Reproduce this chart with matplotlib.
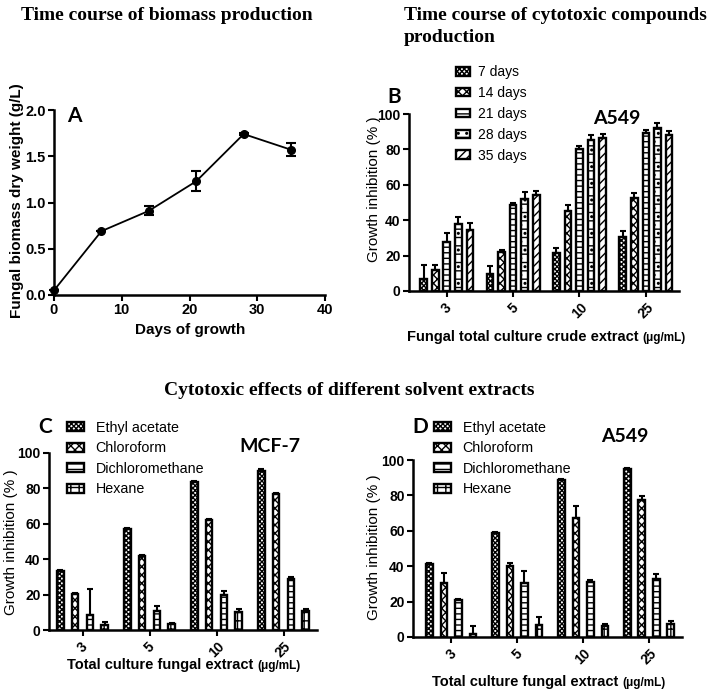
import numpy as np
import matplotlib
matplotlib.use("Agg")
import matplotlib.pyplot as plt

plt.rcParams['font.family'] = ['Liberation Sans', 'DejaVu Sans']
plt.rcParams['hatch.linewidth'] = 1.0

# Panel A: biomass time course
days = [0, 7, 14, 21, 28, 35]
biomass = [0.05, 0.69, 0.91, 1.23, 1.74, 1.57]
biomass_err = [0.0, 0.0, 0.05, 0.11, 0.01, 0.07]

# Panel B: A549 inhibition by culture age
conc_labels = ['3', '5', '10', '25']
b_names = ['7 days', '14 days', '21 days', '28 days', '35 days']
inh_7d = [7.0, 9.8, 21.5, 30.6]
err_7d = [7.5, 4.2, 2.8, 3.4]
inh_14d = [12.0, 22.0, 45.3, 52.6]
err_14d = [2.5, 1.0, 3.2, 2.9]
inh_21d = [27.7, 48.5, 80.2, 89.0]
err_21d = [4.8, 1.3, 1.8, 2.0]
inh_28d = [37.7, 51.7, 85.3, 91.9]
err_28d = [4.2, 4.0, 2.7, 2.8]
inh_35d = [34.7, 54.5, 86.6, 88.1]
err_35d = [3.8, 1.9, 1.9, 2.5]

# Panels C/D: solvent extracts
solvents = ['Ethyl acetate', 'Chloroform', 'Dichloromethane', 'Hexane']
mcf7_ea = [33.4, 57.0, 83.4, 89.6]
mcf7_ea_err = [0.5, 0.6, 0.6, 1.6]
mcf7_cf = [20.2, 41.7, 62.3, 76.8]
mcf7_cf_err = [0.6, 0.6, 0.6, 0.6]
mcf7_dcm = [8.5, 10.7, 19.8, 28.7]
mcf7_dcm_err = [14.7, 2.6, 2.5, 1.0]
mcf7_hex = [2.8, 3.4, 10.0, 11.0]
mcf7_hex_err = [1.5, 0.6, 2.0, 0.6]

a549_ea = [41.0, 59.0, 88.7, 95.0]
a549_ea_err = [0.6, 0.6, 0.8, 0.5]
a549_cf = [30.6, 40.2, 67.0, 77.4]
a549_cf_err = [5.6, 1.6, 7.0, 2.0]
a549_dcm = [21.1, 30.6, 31.1, 32.6]
a549_dcm_err = [0.6, 6.8, 1.0, 3.0]
a549_hex = [1.9, 6.6, 6.0, 7.5]
a549_hex_err = [4.3, 4.7, 1.5, 1.5]

hatches5 = ['xxxxxxx', 'XXXX', '---', '--..', '////']
hatches4 = ['xxxxxxx', 'XXXX', '---', '++']

serif = ['Liberation Serif', 'DejaVu Serif']
letter_font = ['Lato', 'DejaVu Sans']

fig = plt.figure(figsize=(7.08, 6.93), dpi=100)
W, H = 708, 693


def fx(px):
    return px / W


def fy(py):
    return 1 - py / H


def style_axes(ax, size):
    for s in ['top', 'right']:
        ax.spines[s].set_visible(False)
    for s in ['left', 'bottom']:
        ax.spines[s].set_linewidth(1.8)
    ax.tick_params(width=1.5, length=4, labelsize=size, pad=2)
    for lbl in ax.get_xticklabels() + ax.get_yticklabels():
        lbl.set_fontweight('bold')


def place_ylabel(ax, text, px, py, **kw):
    ax.set_ylabel(text, va='center', **kw)
    ax.yaxis.set_label_coords(fx(px), fy(py), transform=fig.transFigure)


def unit_xlabel(px, py, text):
    t = fig.text(fx(px), fy(py), text, fontsize=10.5, fontweight='bold',
                 ha='left', va='center')
    fig.axes[0].annotate('(\u03bcg/mL)', xy=(1, 0.22), xycoords=t, fontsize=8.5,
                         fontweight='bold', ha='left', va='baseline',
                         annotation_clip=False)


def grouped_bars(ax, series, errors, hatches, names, spacing):
    x = np.arange(len(conc_labels))
    n = len(series)
    handles = []
    for i, (vals, err) in enumerate(zip(series, errors)):
        pos = x + (i - (n - 1) / 2) * spacing
        bars = ax.bar(pos, vals, width=0.1, facecolor='white', edgecolor='black',
                      linewidth=1.7, hatch=hatches[i], label=names[i], zorder=2)
        ax.errorbar(pos, vals, yerr=[np.zeros(len(vals)), err], fmt='none',
                    ecolor='black', elinewidth=1.5, capsize=2.5, capthick=1.5, zorder=3)
        handles.append(bars)
    ax.set_ylim(0, 100)
    ax.set_yticks([0, 20, 40, 60, 80, 100])
    ax.set_xticks(x)
    ax.set_xticklabels(conc_labels, rotation=45, ha='center')
    style_axes(ax, 10)
    ax.tick_params(axis='x', pad=3)
    return handles


# ---- Panel A ----
axA = fig.add_axes([fx(54), fy(295), fx(325) - fx(54), fy(110) - fy(295)])
axA.errorbar(days, biomass, yerr=biomass_err, fmt='-o', color='black', lw=1.3,
             ms=5.5, capsize=3.5, capthick=1.5, elinewidth=1.5, clip_on=False)
axA.set_xlim(0, 40)
axA.set_ylim(0, 2.0)
axA.set_xticks([0, 10, 20, 30, 40])
axA.set_yticks([0.0, 0.5, 1.0, 1.5, 2.0])
axA.set_yticklabels(['0.0', '0.5', '1.0', '1.5', '2.0'])
style_axes(axA, 10.5)
axA.set_xlabel('Days of growth', fontsize=11, fontweight='bold', va='center')
axA.xaxis.set_label_coords(fx(190), fy(330), transform=fig.transFigure)
place_ylabel(axA, 'Fungal biomass dry weight (g/L)', 17, 201, fontsize=11, fontweight='bold')
fig.text(fx(74), fy(116), 'A', fontsize=15, fontweight='bold', family=letter_font,
         ha='center', va='center')
fig.text(fx(21), fy(15), 'Time course of biomass production', family=serif,
         fontsize=14, fontweight='bold', ha='left', va='center')

# ---- Panel B ----
axB = fig.add_axes([fx(409), fy(291), fx(679) - fx(409), fy(114) - fy(291)])
axB.set_xlim(-0.57, 3.5)
hB = grouped_bars(axB, [inh_7d, inh_14d, inh_21d, inh_28d, inh_35d],
                  [err_7d, err_14d, err_21d, err_28d, err_35d], hatches5, b_names, 0.175)
place_ylabel(axB, 'Growth inhibition (% )', 374, 189, fontsize=11)
axB.legend(handles=hB, loc='upper left', bbox_to_anchor=(fx(456), fy(65)),
           bbox_transform=fig.transFigure, frameon=False, fontsize=10,
           borderpad=0, borderaxespad=0, handlelength=1.0, handleheight=0.6,
           handletextpad=0.55, labelspacing=0.5)
fig.text(fx(394), fy(97), 'B', fontsize=15, fontweight='bold', family=letter_font,
         ha='center', va='center')
fig.text(fx(617), fy(118), 'A549', fontsize=14, fontweight='bold', family=letter_font,
         ha='center', va='center')
fig.text(fx(404), fy(15), 'Time course of cytotoxic compounds', family=serif,
         fontsize=14, fontweight='bold', ha='left', va='center')
fig.text(fx(404), fy(37), 'production', family=serif,
         fontsize=14, fontweight='bold', ha='left', va='center')
unit_xlabel(407, 337, 'Fungal total culture crude extract ')

# ---- Panel C ----
axC = fig.add_axes([fx(49), fy(630), fx(317) - fx(49), fy(453) - fy(630)])
axC.set_xlim(-0.5, 3.5)
hC = grouped_bars(axC, [mcf7_ea, mcf7_cf, mcf7_dcm, mcf7_hex],
                  [mcf7_ea_err, mcf7_cf_err, mcf7_dcm_err, mcf7_hex_err],
                  hatches4, solvents, 0.22)
place_ylabel(axC, 'Growth inhibition (% )', 11, 542, fontsize=11)
axC.legend(handles=hC, loc='upper left', bbox_to_anchor=(fx(67), fy(421)),
           bbox_transform=fig.transFigure, frameon=False, fontsize=10.3,
           borderpad=0, borderaxespad=0, handlelength=1.2, handleheight=0.6,
           handletextpad=0.8, labelspacing=0.45)
fig.text(fx(45), fy(427), 'C', fontsize=15, fontweight='bold', family=letter_font,
         ha='center', va='center')
fig.text(fx(270), fy(447), 'MCF-7', fontsize=14, fontweight='bold', family=letter_font,
         ha='center', va='center')
unit_xlabel(67, 665, 'Total culture fungal extract ')

# ---- Panel D ----
axD = fig.add_axes([fx(413), fy(637), fx(682) - fx(413), fy(460) - fy(637)])
axD.set_xlim(-0.58, 3.5)
hD = grouped_bars(axD, [a549_ea, a549_cf, a549_dcm, a549_hex],
                  [a549_ea_err, a549_cf_err, a549_dcm_err, a549_hex_err],
                  hatches4, solvents, 0.22)
place_ylabel(axD, 'Growth inhibition (% )', 374, 547, fontsize=11)
axD.legend(handles=hD, loc='upper left', bbox_to_anchor=(fx(434), fy(421)),
           bbox_transform=fig.transFigure, frameon=False, fontsize=10.3,
           borderpad=0, borderaxespad=0, handlelength=1.2, handleheight=0.6,
           handletextpad=0.8, labelspacing=0.45)
fig.text(fx(420), fy(427), 'D', fontsize=15, fontweight='bold', family=letter_font,
         ha='center', va='center')
fig.text(fx(625), fy(436), 'A549', fontsize=14, fontweight='bold', family=letter_font,
         ha='center', va='center')
unit_xlabel(432, 682, 'Total culture fungal extract ')

fig.text(fx(349), fy(391), 'Cytotoxic effects of different solvent extracts', family=serif,
         fontsize=14, fontweight='bold', ha='center', va='center')

fig.savefig('out.png', dpi=100)
